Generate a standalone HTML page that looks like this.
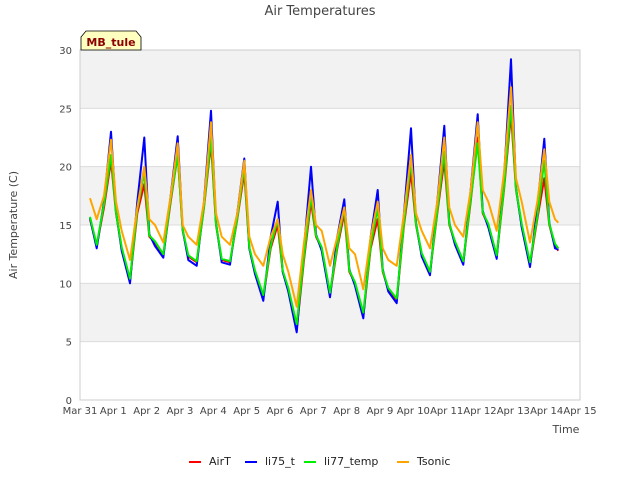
<!DOCTYPE html>
<html><head><meta charset="utf-8"><style>
body{margin:0;background:#fff;font-family:"Liberation Sans","DejaVu Sans",sans-serif}
</style></head><body>
<svg id="chart" width="640" height="480" xmlns="http://www.w3.org/2000/svg" font-family="DejaVu Sans, Liberation Sans, sans-serif">
<text x="320" y="15" text-anchor="middle" font-size="13" fill="#444">Air Temperatures</text>
<g id="bands"></g>
<g id="grid"></g>
<g id="series"></g>
<rect x="80" y="50" width="500" height="350" fill="none" stroke="#ccc"/>
<g id="yticks"></g>
<g id="xticks"></g>
<text transform="translate(17,225) rotate(-90)" text-anchor="middle" font-size="11" fill="#444">Air Temperature (C)</text>
<text x="566" y="433" text-anchor="middle" font-size="11" fill="#444">Time</text>
<g>
<path d="M81,50 L81,37 L86,31 L136,31 L141,37 L141,50 Z" fill="#ffffc0" stroke="#000" stroke-width="0.8"/>
<text x="111" y="46" text-anchor="middle" font-size="11" font-weight="bold" fill="#8b0000">MB_tule</text>
</g>
<g id="legend"></g>
</svg>
<script>
const times=[0.3];
for(let d=0;d<14;d++){times.push(d+0.5,d+0.72,d+0.93,d+1.08,d+1.25);}
times.push(14.35);
const airT=[15.5,
13.2,16.5,20.5,16,13, 10.2,16,18.5,14,13.5, 12.4,17,21,14.5,12.3, 11.8,16.5,22,15,12,
11.8,15.5,19.5,13,11, 8.8,13,15,11,9.5, 6,12,17,14,13, 9,13,16,11,10,
7.2,13,15.5,11,9.5, 8.5,15,19.5,15,12.5, 10.9,16,20.5,15,13.5, 11.8,17,22.5,16,15,
12.3,18,24.5,18,15, 11.6,15.5,19,15,13.2, 12.8];
const li75=[15.6,
13,17,23,16.2,12.8, 10,17,22.5,14.2,13.2, 12.2,17.5,22.6,14.6,12, 11.5,17,24.8,15.2,11.8,
11.6,16,20.7,13,10.8, 8.5,14,17,11,9.3, 5.8,13,20,14.2,12.8, 8.8,14,17.2,11.2,9.8,
7,14,18,11.2,9.3, 8.3,16,23.3,15.2,12.3, 10.7,17,23.5,15.2,13.3, 11.6,18,24.5,16.2,14.8,
12.1,19,29.2,18.2,14.8, 11.4,16.5,22.4,15.2,13, 12.9];
const li77=[15.7,
13.3,16.8,21,16.1,13.1, 10.4,16.3,19.5,14.1,13.6, 12.5,17.2,21,14.6,12.4, 11.9,16.6,22.5,15.1,12.1,
11.9,15.6,20,13.1,11.1, 9,13.2,15.5,11.1,9.6, 6.5,12.3,17.5,14.1,13.1, 9.2,13.2,16.5,11.1,10.1,
7.5,13.2,16.5,11.1,9.6, 8.7,15.2,20.5,15.1,12.6, 11,16.2,21.3,15.1,13.6, 11.9,17.2,22,16.1,15.1,
12.4,18.2,25.2,18.1,15.1, 11.8,15.7,20.5,15.1,13.4, 13];
const tsonic=[17.3,
15.5,17.5,22.3,17,14.5, 12,16.5,20,15.5,15, 13.5,17.5,22,15,14, 13.3,17,23.8,16,14,
13.3,16,20.5,14,12.5, 11.5,14,15.5,12.5,11, 8,13.5,18,15,14.5, 11.5,14,16.5,13,12.5,
9.5,14,17,13,12, 11.5,16,21,16,14.5, 13,17,22.5,16.5,15, 14,18,23.8,18,17,
14.5,19.5,26.8,19,17, 13.5,17,21.5,17,15.5, 15.2];
const yTicks=[0,5,10,15,20,25,30];
const xTickLabels=["Mar 31","Apr 1","Apr 2","Apr 3","Apr 4","Apr 5","Apr 6","Apr 7","Apr 8","Apr 9","Apr 10","Apr 11","Apr 12","Apr 13","Apr 14","Apr 15"];
const seriesNames=["AirT","li75_t","li77_temp","Tsonic"];
const seriesColors=["#ff0000","#0000ff","#00ee00","#ffa500"];
const seriesData=[airT,li75,li77,tsonic];

const NS="http://www.w3.org/2000/svg";
const X=t=>80+t*(500/15);
const Y=v=>400-v*(350/30);
function mk(tag,attrs,parent){const e=document.createElementNS(NS,tag);for(const k in attrs)e.setAttribute(k,attrs[k]);parent.appendChild(e);return e;}
const bands=document.getElementById('bands');
for(let i=0;i<6;i++){
  const lo=i*5;
  const r=mk('rect',{x:80,y:Y(lo+5),width:500,height:Y(lo)-Y(lo+5),fill:(i%2==1)?'#f2f2f2':'#ffffff'},bands);
  
  
}
const grid=document.getElementById('grid'),yt=document.getElementById('yticks');
yTicks.forEach(v=>{
  const l=mk('line',{x1:80,x2:580,y1:Y(v),y2:Y(v),stroke:'#dcdcdc'},grid);
  
  
  const t=mk('text',{x:72,y:Y(v)+4,'text-anchor':'end','font-size':10,fill:'#444'},yt);
  t.textContent=v;
  
  
});
const xt=document.getElementById('xticks');
xTickLabels.forEach((s,i)=>{
  const t=mk('text',{x:X(i),y:414,'text-anchor':'middle','font-size':10,fill:'#444'},xt);
  t.textContent=s;
  
  
});
const sg=document.getElementById('series');
seriesData.forEach((arr,si)=>{
  const d=arr.map((v,i)=>(i?'L':'M')+X(times[i]).toFixed(1)+','+Y(v).toFixed(1)).join(' ');
  const p=mk('path',{d:d,fill:'none',stroke:seriesColors[si],'stroke-width':2,'stroke-linejoin':'round'},sg);
  
  
});
const lg=document.getElementById('legend');
const lx=[189,245,304,397];
seriesNames.forEach((n,i)=>{
  const g=mk('g',{},lg);
  
  
  mk('line',{x1:lx[i],x2:lx[i]+12,y1:462,y2:462,stroke:seriesColors[i],'stroke-width':2},g);
  const t=mk('text',{x:lx[i]+20,y:465,'font-size':11,fill:'#222'},g);
  t.textContent=n;
});
</script>
</body></html>
